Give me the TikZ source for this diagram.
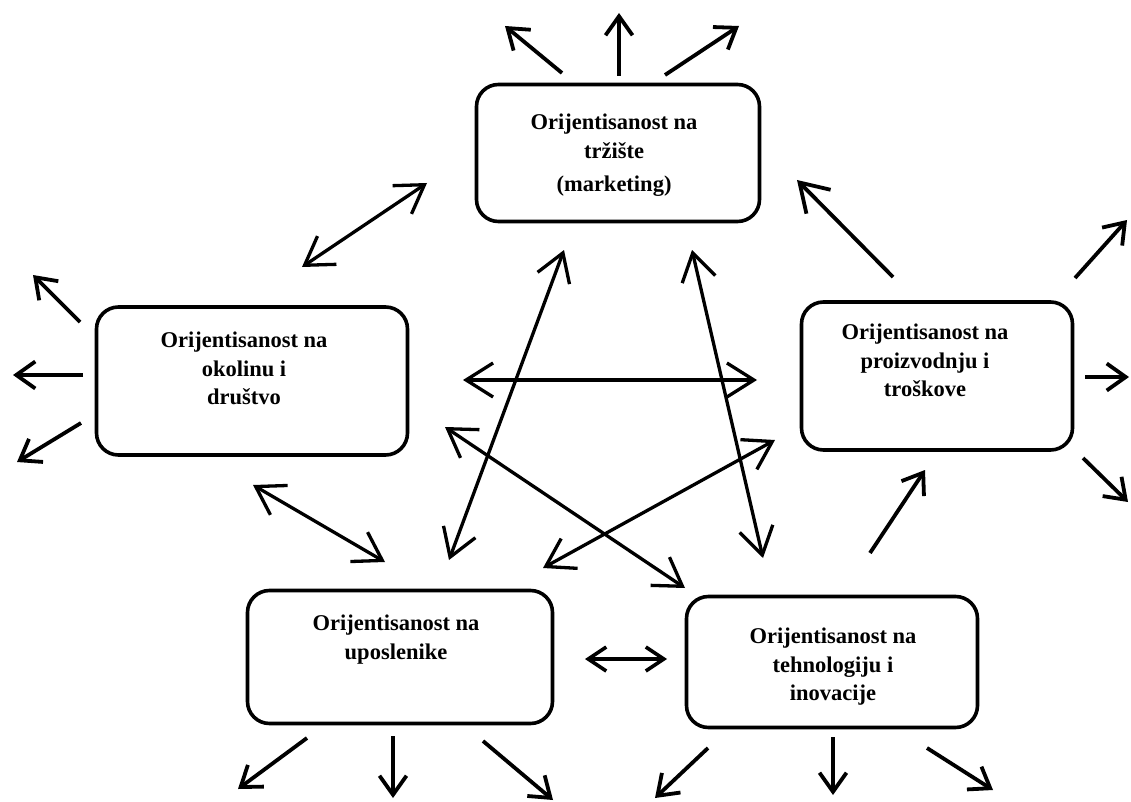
\documentclass[tikz,border=0pt]{standalone}
\usepackage{fontspec}
\setmainfont{Liberation Serif}
\usetikzlibrary{arrows.meta}

\tikzset{
  orbox/.style={draw, line width=3.6pt, rounded corners=22pt, inner sep=0pt},
  ortext/.style={anchor=north, align=center, inner sep=0pt,
    font=\bfseries\fontsize{22.5}{28.5}\selectfont},
  outarrow/.style={line width=3.8pt, -{Straight Barb[length=19pt,width=27pt]}},
  bigarrow/.style={line width=3.8pt, -{Straight Barb[length=27pt,width=34pt]}},
  dblarrow/.style={line width=3.3pt,
    {Straight Barb[length=27pt,width=34pt]}-{Straight Barb[length=27pt,width=34pt]}},
  shortdbl/.style={line width=3.6pt,
    {Straight Barb[length=18pt,width=24pt]}-{Straight Barb[length=18pt,width=24pt]}}
}

\begin{document}
\begin{tikzpicture}[x=1pt, y=-1pt]
    \useasboundingbox (0,0) rectangle (1131,802);

    % the five boxes
    \node[orbox, minimum width=283pt, minimum height=137pt] (mkt) at (618,153) {};
    \node[orbox, minimum width=311pt, minimum height=148pt] (env) at (252,381) {};
    \node[orbox, minimum width=271pt, minimum height=148pt] (prod) at (937,376) {};
    \node[orbox, minimum width=305pt, minimum height=133pt] (emp) at (400,657) {};
    \node[orbox, minimum width=291pt, minimum height=131pt] (tech) at (832,662) {};

    \node[ortext] (mkttxt) at (614,114) {Orijentisanost na\\tržište\\[5pt](marketing)};
    \node[ortext] (envtxt) at (244,332) {Orijentisanost na\\okolinu i\\društvo};
    \node[ortext] (prodtxt) at (925,324) {Orijentisanost na\\proizvodnju i\\troškove};
    \node[ortext] (emptxt) at (396,615) {Orijentisanost na\\uposlenike};
    \node[ortext] (techtxt) at (833,628) {Orijentisanost na\\tehnologiju i\\inovacije};

    % arrows going out of the boxes
    \foreach \n/\ax/\ay/\bx/\by in {
        mkta/562/73/505/26, mktb/619/76/619/13, mktc/665/75/739/26,
        enva/80/322/33/275, envb/83/375/13/375, envc/81/423/17/462,
        proda/1075/278/1127/220, prodb/1085/377/1129/377, prodc/1083/458/1128/502,
        empa/307/738/238/789, empb/393/736/393/798, empc/483/741/553/800,
        techa/708/748/655/798, techb/833/737/833/795, techc/927/748/993/790} {
        \coordinate (\n-s) at (\ax,\ay);
        \coordinate (\n-e) at (\bx,\by);
        \draw[outarrow] (\n-s) -- (\n-e);
    }

    % single arrows between boxes
    \coordinate (pm-s) at (893,277);
    \coordinate (pm-e) at (797,180);
    \coordinate (tp-s) at (870,553);
    \coordinate (tp-e) at (925,470);
    \draw[bigarrow] (pm-s) -- (pm-e);
    \draw[outarrow] (tp-s) -- (tp-e);

    % two-way arrows
    \foreach \n/\ax/\ay/\bx/\by in {
        em/302/267/427/183, ee/253/485/385/562,
        me/564/250/449/560, mt/692/250/763/558,
        ep/463/380/757/380, et/445/427/685/588, pe/775/440/543/568} {
        \coordinate (\n-s) at (\ax,\ay);
        \coordinate (\n-e) at (\bx,\by);
        \draw[dblarrow] (\n-s) -- (\n-e);
    }
    \coordinate (et2-s) at (585,659);
    \coordinate (et2-e) at (667,659);
    \draw[shortdbl] (et2-s) -- (et2-e);
\end{tikzpicture}
\end{document}
